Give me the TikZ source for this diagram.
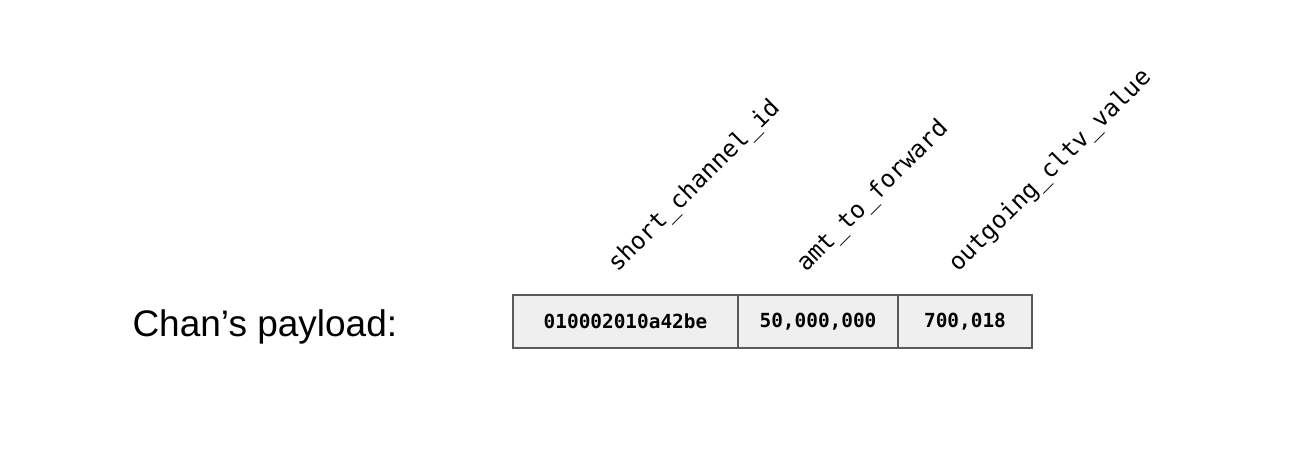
\documentclass[tikz,border=0pt]{standalone}
\usepackage{fontspec}
\setmainfont{Liberation Sans}
\setmonofont{DejaVu Sans Mono}
\usetikzlibrary{positioning}
\definecolor{boxfill}{RGB}{239,239,239}
\definecolor{boxline}{RGB}{90,90,90}
\tikzstyle{field} = [rectangle, draw=boxline, line width=1.5pt, fill=boxfill, minimum height=53pt, inner sep=0pt, outer sep=0pt, font=\ttfamily\bfseries\fontsize{19.4}{19.4}\selectfont]
\tikzstyle{fieldname} = [rotate=45, anchor=south west, inner sep=0pt, font=\ttfamily\fontsize{24}{24}\selectfont]

\begin{document}
\begin{tikzpicture}[x=1pt, y=1pt]
	\useasboundingbox (0,0) rectangle (1312,463);

	\node[anchor=base west, font=\fontsize{37}{37}\selectfont] at (129,126)(Payload){Chan’s payload:};

	\node[field, minimum width=225pt, anchor=north west] at (513,168)(Field-A){010002010a42be};
	\node[field, minimum width=160pt, anchor=west] at (Field-A.east)(Field-B){50,000,000};
	\node[field, minimum width=134pt, anchor=west] at (Field-B.east)(Field-C){700,018};

	\node[fieldname] at ([xshift=-4pt, yshift=18pt]Field-A.north)(Name-A){short\_channel\_id};
	\node[fieldname] at ([xshift=-8pt, yshift=18pt]Field-B.north)(Name-B){amt\_to\_forward};
	\node[fieldname] at ([xshift=-3pt, yshift=18pt]Field-C.north)(Name-C){outgoing\_cltv\_value};

\end{tikzpicture}
\end{document}
